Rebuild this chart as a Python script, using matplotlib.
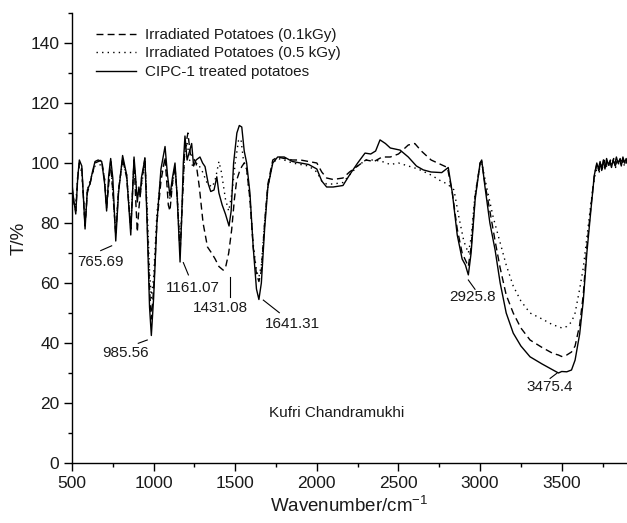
import matplotlib
matplotlib.use("Agg")
import matplotlib.pyplot as plt
from matplotlib.ticker import MultipleLocator

plt.rcParams['font.family'] = ['Liberation Sans', 'DejaVu Sans']
plt.rcParams['mathtext.default'] = 'regular'

# ---- data (wavenumber, transmittance) ----
wn_cipc = [500, 510, 523, 535, 545, 560, 580, 594, 610, 625, 641, 660, 682, 700, 712, 725, 737, 750, 768, 785,
           810, 835, 860, 872, 880, 890, 900, 910, 918, 925, 947, 960, 975, 986, 1000, 1020, 1045, 1070, 1085,
           1100, 1115, 1131, 1145, 1162, 1172, 1182, 1192, 1205, 1215, 1233, 1245, 1260, 1284, 1300, 1315, 1335,
           1350, 1370, 1387, 1400, 1420, 1440, 1462, 1475, 1490, 1510, 1525, 1540, 1555, 1570, 1590, 1610, 1630,
           1645, 1660, 1680, 1700, 1730, 1760, 1800, 1850, 1900, 1950, 2000, 2030, 2060, 2100, 2160, 2200, 2250,
           2295, 2330, 2360, 2387, 2420, 2450, 2510, 2560, 2610, 2652, 2700, 2765, 2805, 2830, 2860, 2890, 2910,
           2928, 2945, 2970, 3000, 3010, 3030, 3060, 3092, 3123, 3160, 3203, 3250, 3306, 3380, 3447, 3480, 3500,
           3531, 3560, 3582, 3610, 3632, 3654, 3680, 3700, 3715, 3725, 3735, 3745, 3755, 3765, 3775, 3785, 3795,
           3805, 3815, 3825, 3835, 3845, 3855, 3865, 3875, 3885, 3895, 3900]
t_cipc = [93, 88, 83, 95, 101, 99, 78, 91, 93, 97, 100.5, 101, 100.5, 93, 84, 96, 101.5, 95, 74, 90,
          102.5, 96, 76, 92, 102, 95, 87, 92, 89, 95, 101.5, 80, 52, 42.5, 55, 80, 98, 105.5, 96,
          89, 95, 100, 88, 67, 82, 100, 109, 101, 103, 106.5, 99, 101, 102, 100, 98.8, 93,
          90.5, 91, 95.4, 90, 86, 83, 79, 84, 100, 110, 112.5, 112, 104, 100, 90, 72, 58,
          54.5, 60, 78, 92, 100, 102, 102, 100.5, 100, 99.5, 98, 94, 92, 92, 92.5, 96, 100,
          103.3, 103, 104, 107.7, 106.5, 105, 104.3, 102, 99, 97.7, 97, 96.8, 98.5, 90, 76, 68, 66,
          62.7, 70, 88, 100, 101, 92, 80, 71, 60, 50, 43.3, 39, 35.4, 33, 31, 30, 30.5,
          30.4, 31, 34.3, 43, 54, 70, 85, 96, 100, 98, 100.5, 97.5, 101, 98, 101.5, 99.5, 100.5,
          98.5, 101, 99.5, 102, 100, 101, 99, 102, 100, 101.5, 100]

wn_01 = [500, 510, 523, 535, 545, 560, 580, 594, 610, 641, 682, 700, 712, 737, 768, 785, 810, 835, 860, 880,
         890, 900, 910, 925, 947, 960, 975, 986, 1000, 1020, 1045, 1070, 1090, 1100, 1115, 1131, 1145, 1162,
         1175, 1190, 1210, 1225, 1240, 1260, 1280, 1303, 1330, 1355, 1377, 1400, 1426, 1440, 1460, 1478, 1495,
         1509, 1525, 1540, 1555, 1570, 1590, 1610, 1630, 1645, 1660, 1680, 1700, 1730, 1760, 1800, 1850, 1900,
         1950, 2000, 2030, 2060, 2100, 2160, 2200, 2250, 2300, 2350, 2400, 2450, 2500, 2560, 2600, 2640, 2700,
         2760, 2800, 2830, 2860, 2890, 2928, 2945, 2970, 3000, 3010, 3030, 3060, 3092, 3123, 3160, 3203, 3250,
         3306, 3380, 3447, 3480, 3500, 3531, 3560, 3582, 3610, 3632, 3654, 3680, 3700, 3715, 3728, 3738, 3748,
         3758, 3768, 3778, 3788, 3798, 3808, 3818, 3828, 3838, 3848, 3858, 3868, 3878, 3888, 3900]
t_01 = [92, 87, 84, 95, 100, 98, 79, 90, 93, 100, 101, 94, 85, 100.5, 76, 91, 101.5, 95, 78, 101,
        88, 77, 85, 93, 102, 82, 58, 48, 58, 80, 94, 102, 86, 84, 93, 99, 88, 70,
        85, 104, 110, 103, 102, 100, 92, 80, 72, 70, 68, 65.5, 64.3, 65, 70, 77.7, 88,
        94.3, 97, 98.8, 100, 98, 88, 72, 63, 60.5, 64, 80, 93, 101, 102, 101.5, 101, 101,
        100.5, 100, 97, 95, 94.5, 95, 97, 99, 101, 100.5, 102, 102, 103, 106, 106.5, 104, 101,
        99.5, 98.5, 90, 78, 70, 65.5, 72, 89, 100, 100.5, 93, 84, 74, 65, 56, 50, 45,
        41, 38.5, 36.5, 36, 35.5, 36, 37, 39, 46, 56, 72, 86, 96, 99.5, 97.5, 100, 98,
        101, 98.5, 100.5, 99, 101, 99.5, 101.5, 99, 100.5, 100, 101.5, 99.5, 101, 100, 100.5]

wn_05 = [500, 510, 523, 535, 545, 560, 580, 594, 610, 641, 682, 700, 712, 737, 768, 785, 810, 835, 860, 880,
         900, 918, 947, 960, 975, 986, 1000, 1020, 1045, 1070, 1100, 1131, 1145, 1162, 1175, 1190, 1205, 1220,
         1240, 1270, 1300, 1330, 1360, 1380, 1400, 1415, 1440, 1460, 1480, 1500, 1520, 1535, 1550, 1570, 1590,
         1610, 1630, 1645, 1660, 1680, 1700, 1730, 1760, 1800, 1850, 1900, 1950, 2000, 2030, 2060, 2100, 2160,
         2200, 2250, 2300, 2350, 2400, 2450, 2500, 2560, 2620, 2700, 2760, 2800, 2840, 2870, 2900, 2928, 2945,
         2970, 3000, 3010, 3040, 3080, 3120, 3160, 3203, 3250, 3306, 3380, 3447, 3480, 3500, 3531, 3560, 3582,
         3610, 3632, 3654, 3680, 3700, 3715, 3730, 3740, 3750, 3760, 3770, 3780, 3790, 3800, 3810, 3820, 3830,
         3840, 3850, 3860, 3870, 3880, 3890, 3900]
t_05 = [90, 88, 86, 96, 99, 97, 80, 91, 94, 99, 99.5, 95, 86, 100, 77, 91, 100.5, 96, 79, 100,
        89, 90, 100, 86, 64, 55, 62, 83, 96, 101, 88, 98, 89, 72, 87, 103, 107, 101,
        99, 100, 97, 93, 92, 95, 100.5, 97, 88, 84, 90, 100, 107.5, 108, 101, 98, 88,
        73, 64, 62, 66, 80, 92, 100, 101.5, 101, 100, 99.5, 99, 97, 94, 93, 93, 93.5,
        96, 99, 101, 101, 100.5, 99.5, 100, 99, 98, 96, 94, 93, 91, 82, 74, 70, 75,
        90, 99, 100, 92, 82, 74, 66, 59, 54, 50, 48, 46, 45.5, 45, 45.5, 47, 50,
        58, 65, 75, 87, 95, 98, 97, 99.5, 98.5, 100.5, 98, 100, 99, 101, 99.5, 100.5, 98.5,
        101, 99.5, 100, 101.5, 99, 100.5, 100]

labels = ['Irradiated Potatoes (0.1kGy)', 'Irradiated Potatoes (0.5 kGy)', 'CIPC-1 treated potatoes']

peak_texts = ['765.69', '985.56', '1161.07', '1431.08', '1641.31', '2925.8', '3475.4']
peak_text_x = [672, 830, 1241, 1409, 1853, 2954, 3427]
peak_text_y = [67.1, 36.8, 58.5, 51.8, 46.3, 55.2, 25.3]
lead_x0 = [676, 906, 1182, 1468, 1672, 2928, 3429]
lead_y0 = [70.8, 39.9, 66.8, 62.1, 54.3, 61.0, 28.2]
lead_x1 = [743, 961, 1213, 1468, 1770, 2969, 3470]
lead_y1 = [72.4, 41.0, 62.7, 55.3, 50.1, 57.9, 29.9]

# ---- figure ----
fig = plt.figure(figsize=(6.27, 5.23), dpi=100)
ax = fig.add_axes([72/627, 60/523, 555/627, 450/523])

ax.plot(wn_01, t_01, color='black', lw=1.0, linestyle=(0, (5, 3)), label=labels[0])
ax.plot(wn_05, t_05, color='black', lw=1.0, linestyle=(0, (1, 3)), label=labels[1])
ax.plot(wn_cipc, t_cipc, color='black', lw=1.0, linestyle='-', label=labels[2])

for s, tx, ty, x0, y0, x1, y1 in zip(peak_texts, peak_text_x, peak_text_y, lead_x0, lead_y0, lead_x1, lead_y1):
    ax.text(tx, ty, s, fontsize=11, ha='center', va='center', color='#1a1a1a')
    ax.plot([x0, x1], [y0, y1], color='black', lw=0.8)

ax.text(2121, 16.6, 'Kufri Chandramukhi', fontsize=11, ha='center', va='center', color='#1a1a1a')

ax.set_xlim(500, 3900)
ax.set_ylim(0, 150)
ax.xaxis.set_major_locator(MultipleLocator(500))
ax.xaxis.set_minor_locator(MultipleLocator(250))
ax.yaxis.set_major_locator(MultipleLocator(20))
ax.yaxis.set_minor_locator(MultipleLocator(10))
ax.set_yticks([0, 20, 40, 60, 80, 100, 120, 140])

for sp in ['top', 'right']:
    ax.spines[sp].set_visible(False)
for sp in ['left', 'bottom']:
    ax.spines[sp].set_linewidth(1.0)

ax.tick_params(axis='both', which='major', direction='out', length=6, width=1.0, labelsize=12.5, pad=3,
               colors='black', labelcolor='#1a1a1a')
ax.tick_params(axis='both', which='minor', direction='out', length=3, width=1.0)

ax.set_xlabel('Wavenumber/cm$^{-1}$', fontsize=13.5, color='#1a1a1a', labelpad=4)
ax.set_ylabel('T/%', fontsize=13.5, color='#1a1a1a', labelpad=2)

leg = ax.legend(loc='upper left', bbox_to_anchor=(0.044, 0.967), frameon=False, fontsize=11,
                handlelength=2.6, handletextpad=0.55, labelspacing=0.3, borderpad=0, borderaxespad=0)
for t in leg.get_texts():
    t.set_color('#1a1a1a')

fig.savefig('out.png', dpi=100)
